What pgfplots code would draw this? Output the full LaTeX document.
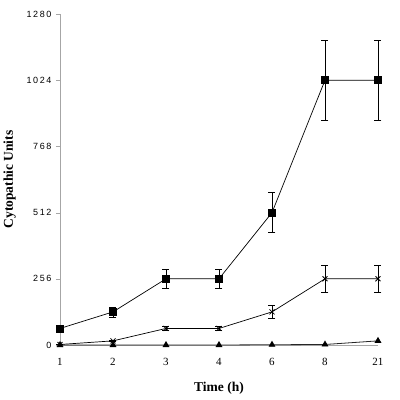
\documentclass[border=0pt]{standalone}
\usepackage{pgfplots}
\pgfplotsset{compat=1.18}
\usepackage{fontspec}
\setmainfont{Liberation Serif}
\setsansfont{Liberation Sans}[LetterSpace=18]
\begin{document}
\begin{tikzpicture}
\begin{axis}[
  scale only axis, width=318pt, height=331pt,
  xmin=0, xmax=6, ymin=0, ymax=1280,
  axis x line=bottom, axis y line=left,
  axis line style={gray!70, -},
  xtick={0,1,2,3,4,5,6}, xticklabels={1,2,3,4,6,8,21},
  xtick style={draw=none},
  ytick={0,256,512,768,1024,1280},
  ytick style={gray!70}, tick align=outside, major tick length=4pt,
  yticklabel style={font=\sffamily\fontsize{9}{10}\selectfont, /pgf/number format/assume math mode=true, /pgf/number format/1000 sep={}, xshift=-1pt},
  xticklabel style={font=\fontsize{11}{12}\selectfont, /pgf/number format/assume math mode=true, yshift=-6pt},
  ylabel={\textbf{Cytopathic Units}}, xlabel={\textbf{Time (h)}},
  label style={font=\fontsize{13.5}{15}\selectfont},
  ylabel style={yshift=4pt},
  xlabel style={yshift=-9pt},
  clip=false,
  error bars/error bar style={black, line width=0.5pt},
  error bars/error mark options={rotate=90, mark size=3.5pt, line width=0.5pt},
]
\addplot[black!85, line width=0.8pt, mark=triangle*, mark size=3.2pt, mark options={black}] coordinates {
 (0,0) (1,0) (2,0) (3,0) (4,1) (5,2) (6,16)};
\addplot[black, line width=0.7pt, mark=x, mark size=3.5pt, mark options={line width=0.8pt},
  error bars/.cd, y dir=both, y explicit] coordinates {
 (0,2) +- (0,0)
 (1,16) +- (0,3)
 (2,64) +- (0,8)
 (3,64) +- (0,8)
 (4,128) +- (0,25)
 (5,256) +- (0,51)
 (6,256) +- (0,51)};
\addplot[black, line width=0.7pt, mark=square*, mark size=3.5pt,
  error bars/.cd, y dir=both, y explicit] coordinates {
 (0,64) +- (0,8)
 (1,128) +- (0,19)
 (2,256) +- (0,38)
 (3,256) +- (0,38)
 (4,512) +- (0,77)
 (5,1024) +- (0,154)
 (6,1024) +- (0,154)};
\end{axis}
\path (current axis.south west) ++(-60pt,-55pt) rectangle ++(400pt,400pt);
\end{tikzpicture}
\end{document}
